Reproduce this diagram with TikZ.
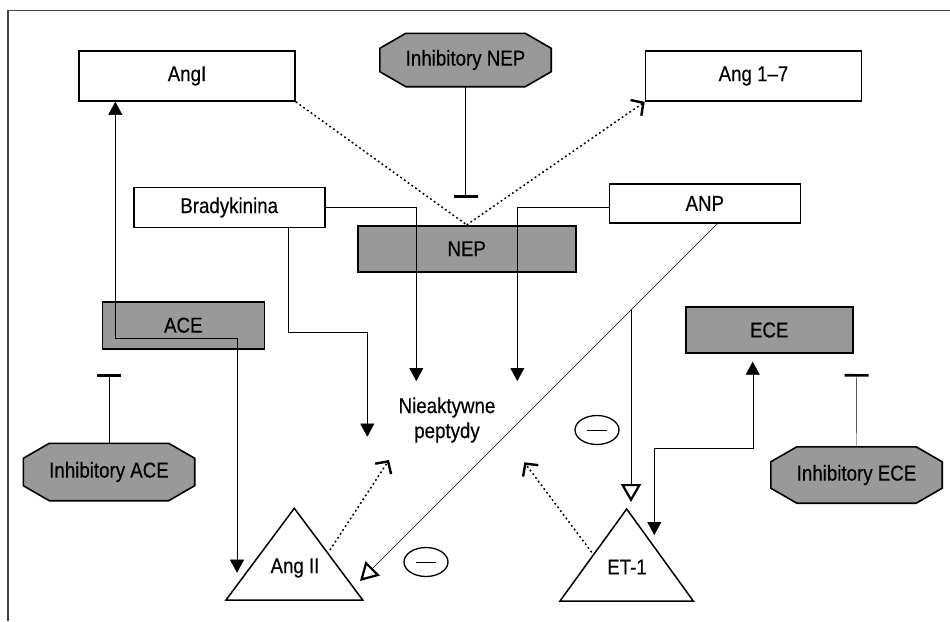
\documentclass[tikz,border=0pt]{standalone}
\usepackage{fontspec}
\setmainfont{Liberation Sans}[FakeStretch=0.87,FakeBold=0.35]
\usetikzlibrary{arrows.meta,shapes.geometric,backgrounds}
\definecolor{boxgray}{RGB}{153,153,153}
\definecolor{framec}{RGB}{70,70,70}
\begin{document}
\begin{tikzpicture}[x=1pt,y=-1pt,line width=1.4pt,
  font=\fontsize{21.5}{25}\selectfont,
  wbox/.style={draw,line width=1.6pt,inner sep=0pt,fill=white},
  gbox/.style={draw,line width=1.6pt,inner sep=0pt,fill=boxgray},
  octnode/.style={inner sep=0pt},
  octfill/.style={draw,line width=1.6pt,fill=boxgray},
  dotline/.style={line width=1.5pt,dash pattern=on 1.8pt off 2.8pt},
  barb/.style={-{Straight Barb[length=9pt,width=19pt,line width=2.4pt]}},
  solidtip/.style={-{Triangle[length=13pt,width=14pt]}},
  opentip/.style={-{Triangle[open,length=18pt,width=20pt,line width=2.2pt,fill=white]}},
  inhib/.style={-{Bar[width=24pt,line width=2.6pt]}},
  minusel/.style={draw,ellipse,line width=1.3pt,minimum width=44pt,minimum height=29pt,inner sep=0pt}]
\useasboundingbox (0,0) rectangle (950,621);
\draw[framec,line width=1.3pt] (8,621) -- (8,10.5) -- (950,10.5);

% rectangles
\node[wbox,minimum width=216pt,minimum height=50pt] (angI) at (187,76) {AngI};
\node[wbox,minimum width=216pt,minimum height=50pt] (ang17) at (753.5,76) {Ang 1–7};
\node[wbox,minimum width=191pt,minimum height=40pt] (brady) at (229.2,207.5) {Bradykinina};
\node[wbox,minimum width=191pt,minimum height=39pt] (anp) at (704.8,203.4) {ANP};
\node[gbox,minimum width=218pt,minimum height=46pt] (nep) at (466.7,248.7) {NEP};
\node[gbox,minimum width=162pt,minimum height=47pt] (ace) at (183.3,325.2) {ACE};
\node[gbox,minimum width=167pt,minimum height=46pt] (ece) at (769.2,330) {ECE};

% octagons
\node[octnode,minimum width=170pt,minimum height=52pt] (inep) at (465.5,60) {Inhibitory NEP};
\node[octnode,minimum width=170pt,minimum height=56pt] (iace) at (109,472) {Inhibitory ACE};
\node[octnode,minimum width=170pt,minimum height=55pt] (iece) at (856.5,475) {Inhibitory ECE};
\begin{pgfonlayer}{background}
\foreach \n in {inep,iace,iece}{
  \filldraw[octfill] ([xshift=26pt]\n.north west) -- ([xshift=-26pt]\n.north east)
    -- ([yshift=-15pt]\n.north east) -- ([yshift=15pt]\n.south east)
    -- ([xshift=-26pt]\n.south east) -- ([xshift=26pt]\n.south west)
    -- ([yshift=15pt]\n.south west) -- ([yshift=-15pt]\n.north west) -- cycle;
}
\end{pgfonlayer}

% triangles
\coordinate (a2top) at (294.3,508.3);
\coordinate (a2l) at (226,600);
\coordinate (a2r) at (362.7,600);
\draw[line width=1.5pt] (a2top) -- (a2r) -- (a2l) -- cycle;
\node (angII) at (295,568) {Ang II};
\coordinate (e1top) at (626.7,509);
\coordinate (e1l) at (560,601);
\coordinate (e1r) at (693.3,601);
\draw[line width=1.5pt] (e1top) -- (e1r) -- (e1l) -- cycle;
\node (et1) at (627,567) {ET-1};

% text
\node[align=center,inner sep=0pt] (niea) at (447,420) {Nieaktywne\\peptydy};
\node[minusel] (m1) at (426,562) {};
\node[minusel] (m2) at (597,430) {};
\draw ([xshift=-10pt]m1.center) -- ([xshift=10pt]m1.center);
\draw ([xshift=-10pt]m2.center) -- ([xshift=10pt]m2.center);

% coordinates
\coordinate (inepbar) at (465.5,197.5);
\coordinate (iacebar) at (109,374);
\coordinate (iecebar) at (856.7,374);
\coordinate (bk1) at (416.3,381);
\coordinate (bk2) at (367.3,332.3);
\coordinate (bk3) at (367.3,436.7);
\coordinate (anp1) at (517.3,381);
\coordinate (anpd) at (718,223);
\coordinate (a2tip) at (360,581);
\coordinate (vstart) at (631,310);
\coordinate (e1tip) at (631,502);
\coordinate (ecetip) at (752.7,361.7);
\coordinate (ecemid) at (752.7,448.3);
\coordinate (ece1tip) at (654.3,535);
\coordinate (acec) at (115.3,338.3);
\coordinate (acetip) at (237,572.7);
\coordinate (a2from) at (330,550);
\coordinate (a2to) at (389,460);
\coordinate (e1from) at (591.7,552.3);
\coordinate (e1to) at (524.3,462.3);

% connectors
\draw[dotline] (angI.south east) -- (nep.north);
\draw[dotline,barb] (nep.north) -- (ang17.south west);
\draw[inhib] (inep.south) -- (inepbar);
\draw[inhib] (iace.north) -- (iacebar);
\draw[inhib] (iece.north) -- (iecebar);
\draw[solidtip] (brady.east) -| (bk1);
\draw[solidtip] ([xshift=59pt]brady.south) |- (bk2) -- (bk3);
\draw[solidtip] (anp.west |- brady.east) -| (anp1);
\draw[opentip] (anpd) -- (a2tip);
\draw[opentip] (vstart) -- (e1tip);
\draw[{Triangle[length=13pt,width=14pt]}-{Triangle[length=13pt,width=14pt]}] (ecetip) -- (ecemid) -| (ece1tip);
\draw[{Triangle[length=13pt,width=14pt]}-{Triangle[length=13pt,width=14pt]}] ([xshift=-71.7pt]angI.south) -- (acec) -| (acetip);
\draw[dotline,barb] (a2from) -- (a2to);
\draw[dotline,barb] (e1from) -- (e1to);
\end{tikzpicture}
\end{document}
